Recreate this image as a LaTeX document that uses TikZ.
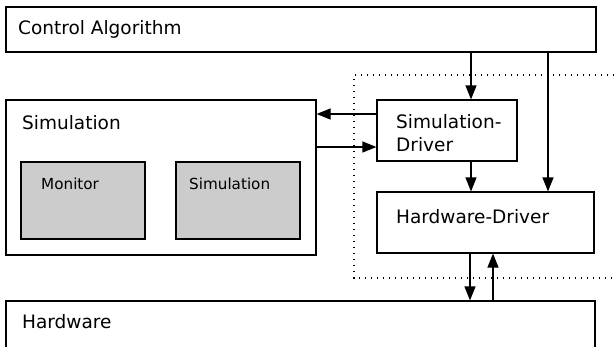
\documentclass[tikz,border=0pt]{standalone}
\usepackage{fontspec}
\setmainfont{DejaVu Sans}
\usetikzlibrary{arrows.meta}
\definecolor{boxgray}{HTML}{CCCCCC}
\newcommand\biglbl{\fontsize{18.5}{23}\selectfont}
\newcommand\smalllbl{\fontsize{15.2}{18}\selectfont}

\begin{document}
\begin{tikzpicture}[x=1pt,y=-1pt,
    box/.style={draw,line width=1.2pt,inner sep=0pt},
    inbox/.style={box,fill=boxgray},
    lbl/.style={inner sep=0pt,anchor=base west,font=\biglbl},
    slbl/.style={inner sep=0pt,anchor=base west,font=\smalllbl},
    arr/.style={line width=1.2pt,-{Triangle[length=14pt,width=11pt]}}]
    \clip (0,0) rectangle (614,346);
    \node (ctrl) at (301,29.5) [box,minimum width=590pt,minimum height=45pt] {}; % top
    \node (simu) at (161,177.5) [box,minimum width=310pt,minimum height=155pt] {};
    \node (mon) at (83,200.5) [inbox,minimum width=124pt,minimum height=77pt] {};
    \node (simi) at (238,200.5) [inbox,minimum width=124pt,minimum height=77pt] {};
    \node (sdrv) at (447,130.5) [box,minimum width=140pt,minimum height=61pt] {};
    \node (hdrv) at (485.5,222.5) [box,minimum width=217pt,minimum height=61pt] {};
    \node (hw) at (300.5,340) [box,minimum width=589pt,minimum height=78pt] {}; % bottom
    % labels
    \node (ctrl-t) at (18,34) [lbl] {Control Algorithm};
    \node (simu-t) at (22,129) [lbl] {Simulation};
    \node (mon-t) at (41,189) [slbl] {Monitor};
    \node (simi-t) at (189,189) [slbl] {Simulation};
    \node (sdrv-t) at (396,128) [lbl] {Simulation-};
    \node (sdrv-t2) at (396,151) [lbl] {Driver};
    \node (hdrv-t) at (396,223) [lbl] {Hardware-Driver};
    \node (hw-t) at (22,328) [lbl] {Hardware};
    % driver frame
    \draw[line width=1.3pt,dash pattern=on 1.3pt off 4.7pt] (620,75) -| (354,278) -- (620,278);
    % connectors
    \draw[arr] ([xshift=24pt]ctrl.south -| sdrv.north) -- ([xshift=24pt]sdrv.north);
    \draw[arr] ([xshift=62.5pt]ctrl.south -| hdrv.north) -- ([xshift=62.5pt]hdrv.north);
    \draw[arr] ([yshift=16.5pt]sdrv.west) -- ([yshift=16.5pt]simu.east |- sdrv.west);
    \draw[arr] ([yshift=-16.5pt]simu.east |- sdrv.west) -- ([yshift=-16.5pt]sdrv.west);
    \draw[arr] ([xshift=24pt]sdrv.south) -- ([xshift=24pt]sdrv.south |- hdrv.north);
    \draw[arr] ([xshift=-15.5pt]hdrv.south) -- ([xshift=-15.5pt]hdrv.south |- hw.north);
    \draw[arr] ([xshift=7.5pt]hdrv.south |- hw.north) -- ([xshift=7.5pt]hdrv.south);
  \end{tikzpicture}
\end{document}
